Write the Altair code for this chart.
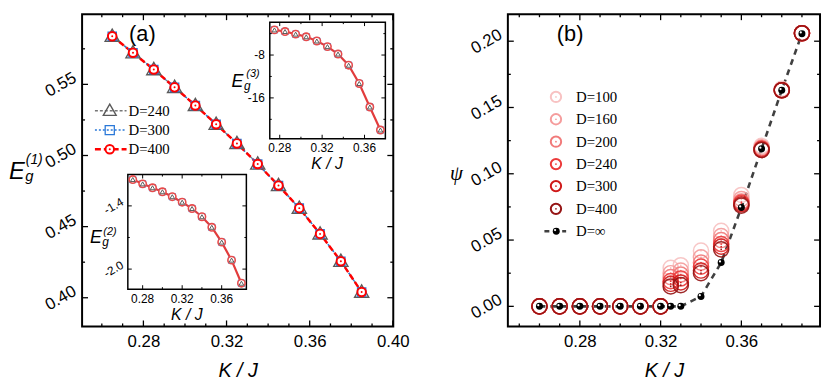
import altair as alt
import pandas as pd

SANS = "Liberation Sans"
SERIF = "Liberation Serif"

# ---------------- data: panel (a), main plot E_g^(1) ----------------
A_K = [0.265, 0.275, 0.285, 0.295, 0.305, 0.315, 0.325, 0.335, 0.345, 0.355, 0.365, 0.375, 0.385]
A_E1_D240 = [0.5838, 0.5722, 0.5604, 0.5479, 0.5352, 0.5220, 0.5085, 0.4940, 0.4789, 0.4630, 0.4449, 0.4257, 0.4040]
A_E1_D300 = [0.5838, 0.5722, 0.5604, 0.5479, 0.5352, 0.5220, 0.5085, 0.4940, 0.4789, 0.4630, 0.4449, 0.4257, 0.4040]
A_E1_D400 = [0.5838, 0.5722, 0.5604, 0.5479, 0.5352, 0.5220, 0.5085, 0.4940, 0.4789, 0.4630, 0.4449, 0.4257, 0.4040]

# inset E_g^(3)
I3_K = [0.275, 0.285, 0.295, 0.305, 0.315, 0.325, 0.335, 0.345, 0.355, 0.365, 0.375]
I3_E3 = [-3.31, -3.61, -4.10, -4.59, -5.38, -6.43, -7.82, -9.90, -13.31, -17.70, -21.99]

# inset E_g^(2)
I2_K = [0.27, 0.28, 0.29, 0.30, 0.31, 0.32, 0.33, 0.34, 0.35, 0.36, 0.37, 0.38]
I2_E2 = [-1.150, -1.191, -1.228, -1.266, -1.313, -1.365, -1.425, -1.503, -1.603, -1.744, -1.915, -2.134]

A_LEGEND = ["D=240", "D=300", "D=400"]

# ticks / tick labels (a)
A_XLAB = [0.28, 0.32, 0.36, 0.40]
A_XMIN = [0.26, 0.27, 0.29, 0.30, 0.31, 0.33, 0.34, 0.35, 0.37, 0.38, 0.39]
A_YLAB = [0.40, 0.45, 0.50, 0.55]
A_YMIN = [0.425, 0.475, 0.525, 0.575]
I3_XLAB = [0.28, 0.32, 0.36]
I3_XTXT = ["0.28", "0.32", "0.36"]
I3_XMIN = [0.30, 0.34]
I3_YLAB = [-8, -16]
I3_YTXT = ["-8", "-16"]
I3_YMIN = [-4, -12, -20]
I2_XLAB = [0.28, 0.32, 0.36]
I2_XTXT = ["0.28", "0.32", "0.36"]
I2_XMIN = [0.30, 0.34]
I2_YLAB = [-1.4, -2.0]
I2_YTXT = ["-1.4", "-2.0"]
I2_YMIN = [-1.7]

# ---------------- data: panel (b), order parameter psi ----------------
B_K = [0.26, 0.27, 0.28, 0.29, 0.30, 0.31, 0.32, 0.325, 0.33, 0.34, 0.35, 0.36, 0.37, 0.38, 0.39]
B_PSI_D100 = [0, 0, 0, 0, 0, 0, 0, 0.029, 0.031, 0.042, 0.057, 0.084, 0.121, 0.164, 0.206]
B_PSI_D160 = [0, 0, 0, 0, 0, 0, 0, 0.025, 0.027, 0.037, 0.053, 0.081, 0.120, 0.163, 0.206]
B_PSI_D200 = [0, 0, 0, 0, 0, 0, 0, 0.022, 0.024, 0.033, 0.050, 0.079, 0.119, 0.163, 0.206]
B_PSI_D240 = [0, 0, 0, 0, 0, 0, 0, 0.019, 0.021, 0.030, 0.047, 0.078, 0.119, 0.163, 0.206]
B_PSI_D300 = [0, 0, 0, 0, 0, 0, 0, 0.017, 0.018, 0.027, 0.045, 0.077, 0.118, 0.163, 0.206]
B_PSI_D400 = [0, 0, 0, 0, 0, 0, 0, 0.015, 0.016, 0.025, 0.043, 0.076, 0.118, 0.163, 0.206]
B_PSI_INF = [0, 0, 0, 0, 0, 0, 0, 0.0, 0.0, 0.0075, 0.033, 0.0745, 0.1188, 0.163, 0.2057]
B_LEGEND = ["D=100", "D=160", "D=200", "D=240", "D=300", "D=400", "D=\u221e"]
B_COLORS = ["#f8c2c2", "#f59c9c", "#f17a7a", "#ec3a3a", "#cf1919", "#951414"]

B_XLAB = [0.28, 0.32, 0.36]
B_XMIN = [0.25, 0.26, 0.27, 0.29, 0.30, 0.31, 0.33, 0.34, 0.35, 0.37, 0.38, 0.39]
B_YLAB = [0.00, 0.05, 0.10, 0.15, 0.20]
B_YMIN = [0.025, 0.075, 0.125, 0.175]

# ---------------- helpers ----------------
ONE = pd.DataFrame({"o": [0]})


def xy(xs, ys):
    return pd.DataFrame({"x": xs, "y": ys})


def scale_x(v0, p0, v1, p1, size):
    k = (p1 - p0) / (v1 - v0)
    lo = v0 - p0 / k
    return alt.Scale(domain=[lo, lo + size / k], nice=False, zero=False)


def scale_y(v0, p0, v1, p1, size):
    k = (p0 - p1) / (v1 - v0)
    top = v0 + p0 / k
    return alt.Scale(domain=[top - size / k, top], nice=False, zero=False)


def enc(chart, sx, sy, xaxis, yaxis):
    return chart.encode(x=alt.X("x:Q", scale=sx, axis=xaxis), y=alt.Y("y:Q", scale=sy, axis=yaxis))


def text(x, y, s, size, font=SANS, style="normal", align="left", baseline="alphabetic", angle=0, color="black"):
    return alt.Chart(ONE).mark_text(font=font, fontSize=size, fontStyle=style, align=align,
                                    baseline=baseline, angle=angle, color=color).encode(
        x=alt.value(x), y=alt.value(y), text=alt.value(s))


def vticks(vals, sx, ax, y0, y1, w):
    return alt.Chart(pd.DataFrame({"x": vals})).mark_rule(color="black", strokeWidth=w).encode(
        x=alt.X("x:Q", scale=sx, axis=ax), y=alt.value(y0), y2=alt.value(y1))


def hticks(vals, sy, ay, x0, x1, w):
    return alt.Chart(pd.DataFrame({"y": vals})).mark_rule(color="black", strokeWidth=w).encode(
        y=alt.Y("y:Q", scale=sy, axis=ay), x=alt.value(x0), x2=alt.value(x1))


def frame_ticks(xmaj, xmin, ymaj, ymin, sx, sy, ax, ay, left, right, top, bottom, lmaj, lmin, w):
    out = []
    for vals, ln in ((xmaj, lmaj), (xmin, lmin)):
        out.append(vticks(vals, sx, ax, bottom, bottom - ln, w))
        out.append(vticks(vals, sx, ax, top, top + ln, w))
    for vals, ln in ((ymaj, lmaj), (ymin, lmin)):
        out.append(hticks(vals, sy, ay, left, left + ln, w))
        out.append(hticks(vals, sy, ay, right, right - ln, w))
    return out


def xlabels(vals, labs, sx, y, size):
    return alt.Chart(pd.DataFrame({"x": vals, "t": labs})).mark_text(
        font=SANS, fontSize=size, align="center", baseline="middle", color="black").encode(
        x=alt.X("x:Q", scale=sx, axis=None), y=alt.value(y), text="t:N")


def ylabels(vals, labs, sy, x, size, align="right", angle=0):
    return alt.Chart(pd.DataFrame({"y": vals, "t": labs})).mark_text(
        font=SANS, fontSize=size, align=align, baseline="middle", angle=angle, color="black").encode(
        y=alt.Y("y:Q", scale=sy, axis=None), x=alt.value(x), text="t:N")


def box(x0, x1, y0, y1, w):
    return alt.Chart(ONE).mark_rect(fill="white", stroke="black", strokeWidth=w).encode(
        x=alt.value(x0), x2=alt.value(x1), y=alt.value(y0), y2=alt.value(y1))


def rule_at(x0, x1, y, color, width, dash):
    return alt.Chart(ONE).mark_rule(color=color, strokeWidth=width, strokeDash=dash).encode(
        x=alt.value(x0), x2=alt.value(x1), y=alt.value(y))


def sym_at(x, y, **kw):
    return alt.Chart(ONE).mark_point(opacity=1, **kw).encode(x=alt.value(x), y=alt.value(y))


def axis_x(vals):
    return alt.Axis(values=vals, format=".2f", labelFont=SANS, labelFontSize=17, labelColor="black",
                    labelPadding=7, labelFlush=False, labelOverlap=False, ticks=False, tickSize=0,
                    domain=False, grid=False, title="K / J", titleFont=SANS, titleFontSize=20,
                    titleFontStyle="italic", titleFontWeight="normal", titleColor="black", titlePadding=12)


def axis_y(vals):
    return alt.Axis(values=vals, format=".2f", labelFont=SANS, labelFontSize=17, labelColor="black",
                    labelAngle=330, labelAlign="center", labelBaseline="middle", labelPadding=22,
                    labelFlush=False, labelOverlap=False, ticks=False, tickSize=0, domain=False,
                    grid=False, title="")


GRAY = "#5a5a5a"
BLUE = "#2a78d8"
RED = "#ff0000"

# ---------------- panel (a) ----------------
WA, HA = 315, 316
AX = scale_x(0.265, 30.5, 0.385, 283, WA)
AY = scale_y(0.40, 287, 0.55, 71, HA)
XA = axis_x(A_XLAB)
YA = axis_y(A_YLAB)

a_main = alt.layer(
    enc(alt.Chart(xy(A_K, A_E1_D240)).mark_line(color="#777777", strokeWidth=1.3, strokeDash=[3, 2]), AX, AY, XA, YA),
    enc(alt.Chart(xy(A_K, A_E1_D300)).mark_line(color=BLUE, strokeWidth=1.5, strokeDash=[2, 2]), AX, AY, XA, YA),
    enc(alt.Chart(xy(A_K, A_E1_D400)).mark_line(color=RED, strokeWidth=2.5, strokeDash=[6, 3]), AX, AY, XA, YA),
    enc(alt.Chart(xy(A_K, A_E1_D240)).mark_point(shape="triangle-up", filled=False, color=GRAY, size=205,
                                               strokeWidth=1.4, opacity=1, yOffset=-1), AX, AY, XA, YA),
    enc(alt.Chart(xy(A_K, A_E1_D300)).mark_point(shape="square", filled=False, color=BLUE, size=70,
                                               strokeWidth=1.3, opacity=1), AX, AY, XA, YA),
    enc(alt.Chart(xy(A_K, A_E1_D400)).mark_point(shape="circle", filled=True, fill="white", stroke=RED,
                                               size=75, strokeWidth=2, opacity=1), AX, AY, XA, YA),
    enc(alt.Chart(xy(A_K, A_E1_D400)).mark_circle(color=RED, size=4, opacity=1), AX, AY, XA, YA),
    *frame_ticks(A_XLAB, A_XMIN, A_YLAB, A_YMIN, AX, AY, XA, YA, 0, WA, 0, HA, 6, 3, 1.3),
    # legend
    rule_at(13, 45, 97.7, "#777777", 1.3, [3, 2]),
    sym_at(28, 96.7, shape="triangle-up", filled=False, color=GRAY, size=170, strokeWidth=1.4),
    rule_at(13, 45, 117.3, BLUE, 1.5, [2, 2]),
    sym_at(28, 117.3, shape="square", filled=False, color=BLUE, size=85, strokeWidth=1.3),
    rule_at(13, 45, 136.7, RED, 2.5, [6, 3]),
    sym_at(28, 136.7, shape="circle", filled=True, fill="white", stroke=RED, size=75, strokeWidth=2),
    sym_at(28, 136.7, shape="circle", filled=True, color=RED, size=4),
    text(47, 97.7, A_LEGEND[0], 15, font=SERIF, baseline="middle"),
    text(47, 117.3, A_LEGEND[1], 15, font=SERIF, baseline="middle"),
    text(47, 136.7, A_LEGEND[2], 15, font=SERIF, baseline="middle"),
    # titles
    text(61, 20, "(a)", 22, align="center", baseline="middle"),
    text(-74, 166.3, "E", 24, style="italic"),
    text(-57.5, 168.5, "g", 15, style="italic"),
    text(-57, 151.5, "(1)", 14, style="italic"),
)

# inset E_g^(3)
I3X = scale_x(0.275, 194.7, 0.375, 302, WA)
I3Y = scale_y(-8, 41.3, -16, 84.7, HA)
a_in3 = alt.layer(
    box(190, 307, 8, 126, 1.5),
    enc(alt.Chart(xy(I3_K, I3_E3)).mark_line(color="#e23c3c", strokeWidth=2.2), I3X, I3Y, None, None),
    enc(alt.Chart(xy(I3_K, I3_E3)).mark_point(shape="square", filled=False, color=BLUE, size=40,
                                             strokeWidth=1, opacity=1), I3X, I3Y, None, None),
    enc(alt.Chart(xy(I3_K, I3_E3)).mark_point(shape="circle", filled=True, fill="white", stroke="#e84a4a",
                                             size=55, strokeWidth=1.6, opacity=1), I3X, I3Y, None, None),
    enc(alt.Chart(xy(I3_K, I3_E3)).mark_point(shape="triangle-up", filled=False, color=GRAY, size=22,
                                             strokeWidth=1, opacity=1), I3X, I3Y, None, None),
    *frame_ticks(I3_XLAB, I3_XMIN, I3_YLAB, I3_YMIN, I3X, I3Y, None, None, 190, 307, 8, 126, 4, 2, 1),
    xlabels(I3_XLAB, I3_XTXT, I3X, 135.7, 12),
    ylabels(I3_YLAB, I3_YTXT, I3Y, 185, 12),
    text(248, 152, "K / J", 16, style="italic", align="center", baseline="middle"),
    text(151.3, 74, "E", 18, style="italic"),
    text(164, 76.5, "g", 12, style="italic"),
    text(166.3, 63.4, "(3)", 11, style="italic"),
)

# inset E_g^(2)
I2X = scale_x(0.27, 51.3, 0.38, 161.3, WA)
I2Y = scale_y(-1.4, 194, -2.0, 258, HA)
a_in2 = alt.layer(
    box(46.3, 166.3, 162.3, 278.3, 1.5),
    enc(alt.Chart(xy(I2_K, I2_E2)).mark_line(color="#e23c3c", strokeWidth=2.2), I2X, I2Y, None, None),
    enc(alt.Chart(xy(I2_K, I2_E2)).mark_point(shape="square", filled=False, color=BLUE, size=40,
                                             strokeWidth=1, opacity=1), I2X, I2Y, None, None),
    enc(alt.Chart(xy(I2_K, I2_E2)).mark_point(shape="circle", filled=True, fill="white", stroke="#e84a4a",
                                             size=55, strokeWidth=1.6, opacity=1), I2X, I2Y, None, None),
    enc(alt.Chart(xy(I2_K, I2_E2)).mark_point(shape="triangle-up", filled=False, color=GRAY, size=22,
                                             strokeWidth=1, opacity=1), I2X, I2Y, None, None),
    *frame_ticks(I2_XLAB, I2_XMIN, I2_YLAB, I2_YMIN, I2X, I2Y, None, None, 46.3, 166.3, 162.3, 278.3, 4, 2, 1),
    xlabels(I2_XLAB, I2_XTXT, I2X, 288, 12),
    ylabels(I2_YLAB, I2_YTXT, I2Y, 32, 12, align="center", angle=330),
    text(106, 305, "K / J", 16, style="italic", align="center", baseline="middle"),
    text(8, 231.7, "E", 18, style="italic"),
    text(20.5, 234.5, "g", 12, style="italic"),
    text(21.5, 223.0, "(2)", 11, style="italic"),
)

panel_a = alt.layer(a_main, a_in3, a_in2).resolve_scale(
    x="independent", y="independent").properties(width=WA, height=HA)

# ---------------- panel (b) ----------------
WB, HB = 316, 316
BX = scale_x(0.26, 32, 0.39, 297.7, WB)
BY = scale_y(0.0, 295.7, 0.20, 27.3, HB)
XB = axis_x(B_XLAB)
YB = axis_y(B_YLAB)

B_SERIES = [B_PSI_D100, B_PSI_D160, B_PSI_D200, B_PSI_D240, B_PSI_D300, B_PSI_D400]

b_layers = [enc(alt.Chart(xy(B_K, B_PSI_INF)).mark_line(color="#404040", strokeWidth=2.6, strokeDash=[6, 5]),
                BX, BY, XB, YB)]
for vals, col in zip(B_SERIES, B_COLORS):
    b_layers.append(enc(alt.Chart(xy(B_K, vals)).mark_point(shape="circle", filled=False, color=col,
                                                            size=235, strokeWidth=1.5, opacity=0.9), BX, BY, XB, YB))
    b_layers.append(enc(alt.Chart(xy(B_K, vals)).mark_circle(color=col, size=3, opacity=1), BX, BY, XB, YB))
b_layers.append(enc(alt.Chart(xy(B_K, B_PSI_INF)).mark_circle(color="black", size=50, opacity=1), BX, BY, XB, YB))
b_layers.append(enc(alt.Chart(xy(B_K, B_PSI_INF)).mark_circle(color="white", size=5, opacity=1,
                                                              xOffset=-1.2, yOffset=-1.2), BX, BY, XB, YB))
b_layers += frame_ticks(B_XLAB, B_XMIN, B_YLAB, B_YMIN, BX, BY, XB, YB, 0, WB, 0, HB, 6, 3, 1.3)

LEG_Y = [83.7, 106.3, 129, 151.7, 174, 197, 219.7]
for i, col in enumerate(B_COLORS):
    b_layers.append(sym_at(48.7, LEG_Y[i], shape="circle", filled=False, color=col, size=110, strokeWidth=2))
    b_layers.append(sym_at(48.7, LEG_Y[i], shape="circle", filled=True, color=col, size=3))
    b_layers.append(text(69, LEG_Y[i], B_LEGEND[i], 15, font=SERIF, baseline="middle"))
b_layers.append(rule_at(37, 59, LEG_Y[6], "#404040", 2.6, [5, 4]))
b_layers.append(sym_at(49, LEG_Y[6], shape="circle", filled=True, color="black", size=50))
b_layers.append(sym_at(47.8, LEG_Y[6] - 1.2, shape="circle", filled=True, color="white", size=5))
b_layers.append(text(69, LEG_Y[6], B_LEGEND[6], 15, font=SERIF, baseline="middle"))
b_layers.append(text(63, 20, "(b)", 22, align="center", baseline="middle"))
b_layers.append(text(-52, 162, "\u03c8", 21, font=SERIF, style="italic", align="center", baseline="middle"))

panel_b = alt.layer(*b_layers).properties(width=WB, height=HB)

chart = alt.hconcat(panel_a, panel_b, spacing=38).properties(
    padding={"left": 0, "top": 2, "right": 0, "bottom": 0}
).configure(background="white").configure_view(stroke="black", strokeWidth=2)

chart.save("out.html", embed_options={"renderer": "svg", "actions": False})
